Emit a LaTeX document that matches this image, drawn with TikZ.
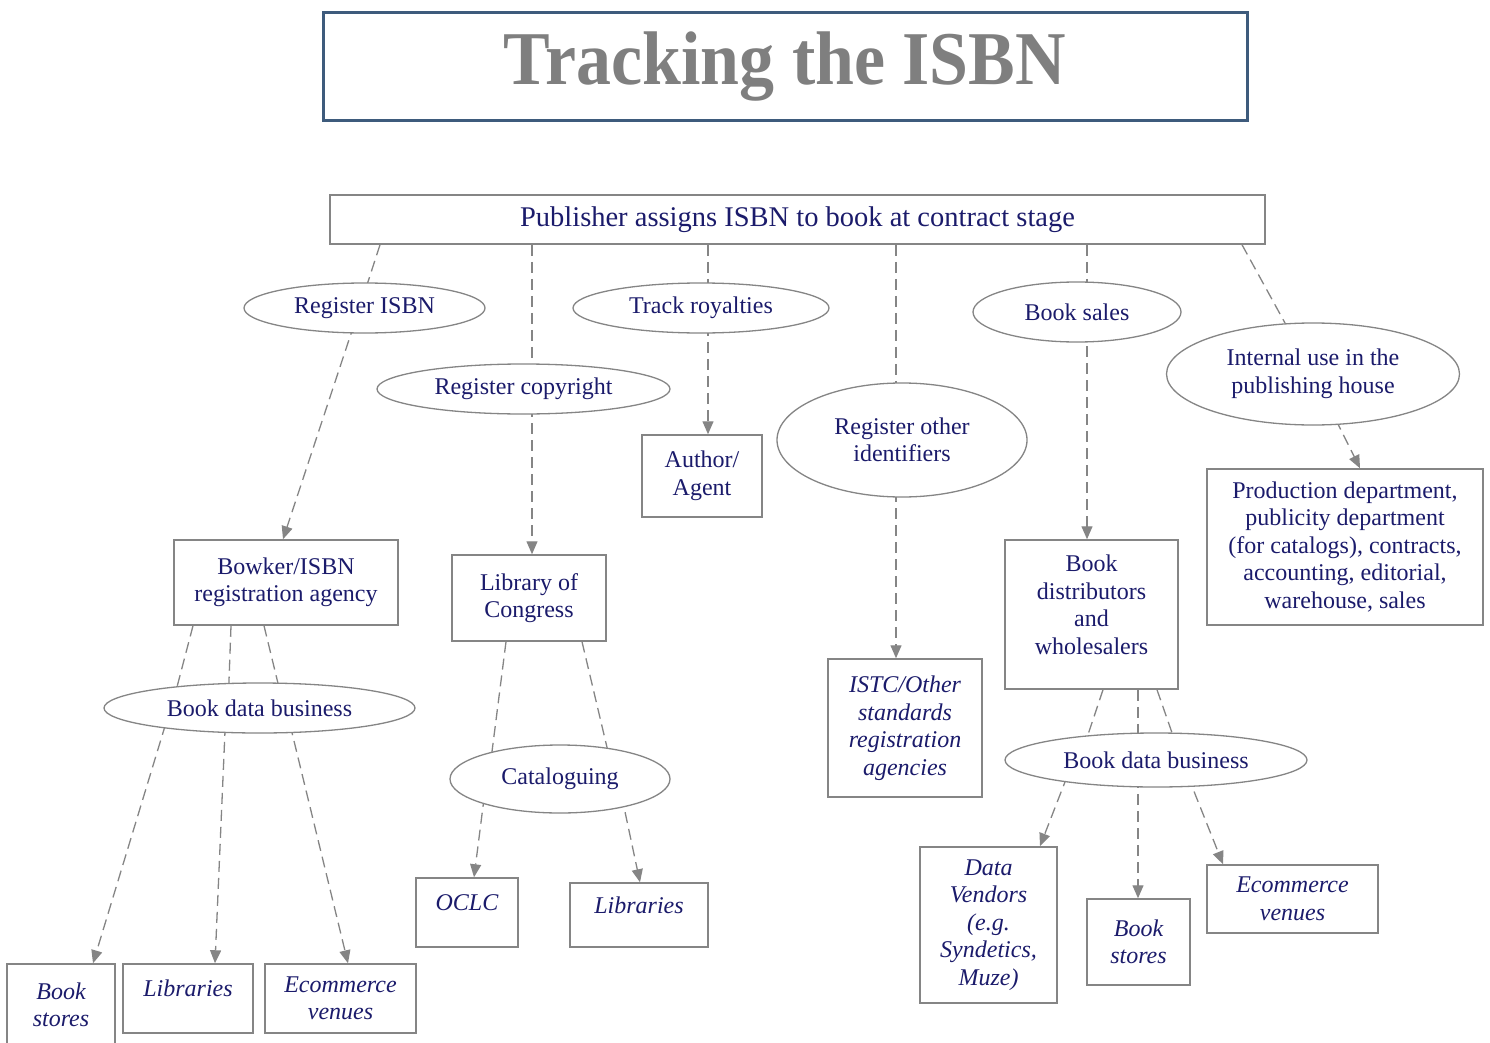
\documentclass[tikz,border=0pt]{standalone}
\usepackage{fontspec}
\setmainfont{Liberation Serif}
\usepackage{graphicx}
\usetikzlibrary{arrows.meta, shapes.geometric, backgrounds}

\definecolor{inkblue}{HTML}{1B1B6B}
\definecolor{titlegray}{HTML}{7F7F7F}
\definecolor{frameblue}{HTML}{3E5B7C}
\definecolor{linegray}{HTML}{858585}

\tikzset{
  dims/.style 2 args={minimum width=#1pt, minimum height=#2pt},
  % Title frame
  titlebox/.style={
    draw=frameblue, line width=3pt, rectangle, inner sep=0pt,
    text=titlegray, font=\fontsize{76}{80}\selectfont\bfseries
  },
  % Top box
  stagebox/.style={
    draw=linegray, line width=1.5pt, rectangle, fill=white, inner sep=0pt,
    text=inkblue, font=\fontsize{28.5}{32}\selectfont
  },
  % Purposes (ellipses)
  purpose/.style={
    draw=linegray, line width=1.3pt, ellipse, fill=white, inner sep=0pt,
    align=center, text=inkblue, font=\fontsize{24}{27.5}\selectfont
  },
  % Agencies and outlets
  agency/.style={
    draw=linegray, line width=1.5pt, rectangle, fill=white, inner sep=0pt,
    align=center, text=inkblue, font=\fontsize{24}{27.5}\selectfont
  },
  outlet/.style={agency, font=\fontsize{24}{27.5}\selectfont\itshape},
  toptext/.style={text height=16pt, text depth=20pt},
  % Connectors
  link/.style={draw=linegray, line width=1.3pt, dash pattern=on 11pt off 6pt},
  flow/.style={link, -{Triangle[length=13pt, width=11pt]}},
}

\begin{document}
\begin{tikzpicture}[x=1pt, y=-1pt]
  \useasboundingbox (0,0) rectangle (1490,1043);

  %% ── Title ──
  \node[titlebox, dims={924}{108}] (title) at (785,67) {\scalebox{0.92}[1]{Tracking the ISBN}};
  \node[stagebox, dims={935}{49}] (pub) at (797.5,219.5) {Publisher assigns ISBN to book at contract stage};

  %% ── Purposes ──
  \node[purpose, dims={241}{50}]  (risbn)    at (364.5,308) {Register ISBN};
  \node[purpose, dims={256}{50}]  (troy)     at (701,308)   {Track royalties};
  \node[purpose, dims={293}{50}]  (rcopy)    at (523.5,389) {Register copyright};
  \node[purpose, dims={208}{60}]  (bsales)   at (1077,312)  {Book sales};
  \node[purpose, dims={293}{102}] (intuse)   at (1313,374)  {Internal use in the\\publishing house};
  \node[purpose, dims={250}{114}] (rother)   at (902,440)   {Register other\\identifiers};
  \node[purpose, dims={311}{50}]  (bdbleft)  at (259.5,708) {Book data business};
  \node[purpose, dims={220}{68}]  (catalog)  at (560,779)   {Cataloguing};
  \node[purpose, dims={302}{54}]  (bdbright) at (1156,760)  {Book data business};

  %% ── Agencies ──
  \node[agency, dims={120}{82}]  (author)  at (702,476)    {Author/\\Agent};
  \node[agency, dims={224}{85}]  (bowker)  at (286,582.5)  {Bowker/ISBN\\registration agency};
  \node[agency, dims={154}{86}]  (loc)     at (529,598)    {Library of\\Congress};
  \node[agency, dims={173}{149}, text depth=20pt] (distrib) at (1091.5,614.5) {Book\\distributors\\and\\wholesalers};
  \node[agency, dims={276}{156}] (prod)    at (1345,547)   {Production department,\\publicity department\\(for catalogs), contracts,\\accounting, editorial,\\warehouse, sales};

  %% ── Outlets ──
  \node[outlet, dims={108}{82}]           (storesleft)  at (61,1005)    {Book\\stores};
  \node[outlet, toptext, dims={130}{69}]  (libleft)     at (188,998.5)  {Libraries};
  \node[outlet, dims={151}{69}]           (ecomleft)    at (340.5,998.5){Ecommerce\\venues};
  \node[outlet, toptext, dims={102}{69}]  (oclc)        at (467,912.5)  {OCLC};
  \node[outlet, toptext, dims={138}{64}]  (libmid)      at (639,915)    {Libraries};
  \node[outlet, dims={154}{138}]          (istc)        at (905,728)    {ISTC/Other\\standards\\registration\\agencies};
  \node[outlet, dims={137}{156}]          (vendors)     at (988.5,925)  {Data\\Vendors\\(e.g.\\Syndetics,\\Muze)};
  \node[outlet, dims={103}{86}]           (storesright) at (1138.5,942) {Book\\stores};
  \node[outlet, dims={171}{68}]           (ecomright)   at (1292.5,899) {Ecommerce\\venues};

  \begin{scope}[on background layer]
    %% ── From the publisher ──
    \draw[link] ([xshift=-417.5pt]pub.south) -- ([xshift=-5pt]risbn.center);
    \draw[flow] ([xshift=-5pt]risbn.center) -- ([xshift=-3pt]bowker.north);
    \draw[link] ([xshift=-265.5pt]pub.south) -- ([xshift=8.5pt]rcopy.center);
    \draw[flow] ([xshift=8.5pt]rcopy.center) -- ([xshift=3pt]loc.north);
    \draw[link] ([xshift=-89.5pt]pub.south) -- ([xshift=7pt]troy.center);
    \draw[flow] ([xshift=7pt]troy.center) -- ([xshift=6pt]author.north);
    \draw[link] ([xshift=98.5pt]pub.south) -- ([xshift=-6pt]rother.center);
    \draw[flow] ([xshift=-6pt]rother.center) -- ([xshift=-9pt]istc.north);
    \draw[link] ([xshift=289.5pt]pub.south) -- ([xshift=10pt]bsales.center);
    \draw[flow] ([xshift=10pt]bsales.center) -- ([xshift=-4.5pt]distrib.north);
    \draw[link] ([xshift=444.5pt]pub.south) -- (intuse.center);
    \draw[flow] (intuse.center) -- ([xshift=15pt]prod.north);

    %% ── Bowker branch ──
    \draw[link] ([xshift=-93pt]bowker.south) -- ([xshift=-88pt]bdbleft.center);
    \draw[link] ([xshift=-55pt]bowker.south) -- ([xshift=-31.5pt]bdbleft.center);
    \draw[link] ([xshift=-22pt]bowker.south) -- ([xshift=24.5pt]bdbleft.center);
    \draw[flow] ([xshift=-89pt]bdbleft.center) -- ([xshift=32pt]storesleft.north);
    \draw[flow] ([xshift=-33.5pt]bdbleft.center) -- ([xshift=27pt]libleft.north);
    \draw[flow] ([xshift=26.5pt]bdbleft.center) -- ([xshift=7.5pt]ecomleft.north);

    %% ── Library of Congress branch ──
    \draw[link] ([xshift=-23pt]loc.south) -- ([xshift=-71.5pt]catalog.center);
    \draw[link] ([xshift=53pt]loc.south) -- ([xshift=54.5pt]catalog.center);
    \draw[flow] ([xshift=-73.5pt]catalog.center) -- ([xshift=7pt]oclc.north);
    \draw[flow] ([xshift=58pt]catalog.center) -- ([xshift=1pt]libmid.north);

    %% ── Distributors branch ──
    \draw[link] ([xshift=11.5pt]distrib.south) -- ([xshift=-76.5pt]bdbright.center);
    \draw[link] ([xshift=46.5pt]distrib.south) -- ([xshift=-18pt]bdbright.center);
    \draw[link] ([xshift=65.5pt]distrib.south) -- ([xshift=25.5pt]bdbright.center);
    \draw[flow] ([xshift=-82.5pt]bdbright.center) -- ([xshift=51.5pt]vendors.north);
    \draw[flow] ([xshift=-18pt]bdbright.center) -- ([xshift=-0.5pt]storesright.north);
    \draw[flow] ([xshift=25.5pt]bdbright.center) -- ([xshift=-69.5pt]ecomright.north);
  \end{scope}

\end{tikzpicture}
\end{document}
